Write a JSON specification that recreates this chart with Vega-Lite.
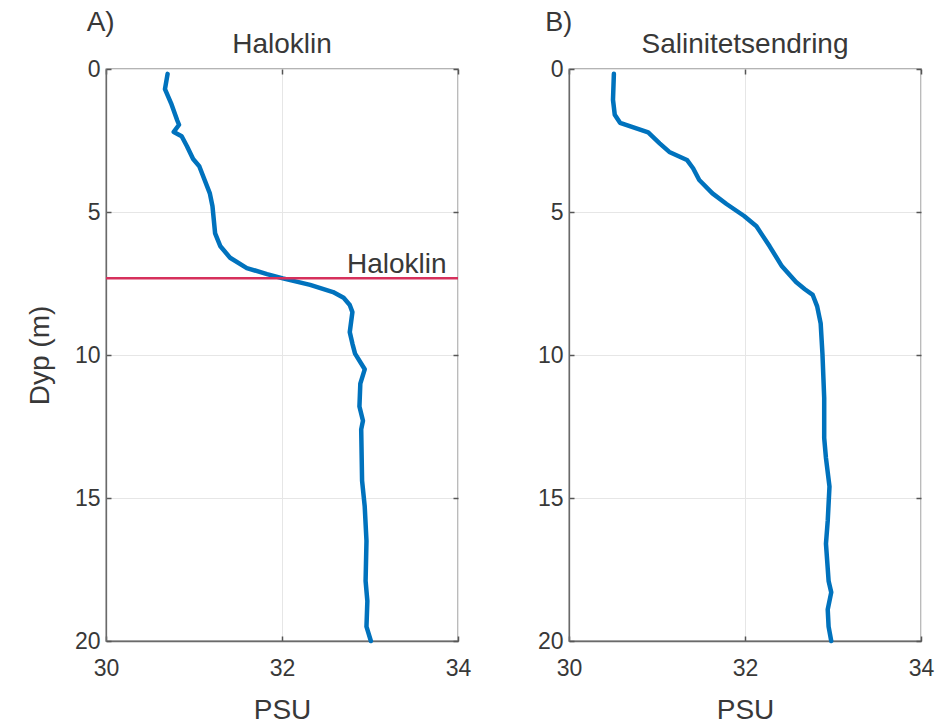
{
  "$schema": "https://vega.github.io/schema/vega-lite/v6.json",
  "background": "white",
  "padding": {"left": 25, "top": 8, "right": 5, "bottom": 0},
  "datasets": {
    "a": [
      {"psu": 30.70, "depth": 0.17}, {"psu": 30.67, "depth": 0.7}, {"psu": 30.74, "depth": 1.2}, {"psu": 30.81, "depth": 1.8},
      {"psu": 30.83, "depth": 1.95}, {"psu": 30.77, "depth": 2.2}, {"psu": 30.86, "depth": 2.35}, {"psu": 30.92, "depth": 2.7},
      {"psu": 30.99, "depth": 3.15}, {"psu": 31.06, "depth": 3.4}, {"psu": 31.18, "depth": 4.35}, {"psu": 31.21, "depth": 4.8},
      {"psu": 31.24, "depth": 5.75}, {"psu": 31.30, "depth": 6.2}, {"psu": 31.41, "depth": 6.6}, {"psu": 31.60, "depth": 6.96},
      {"psu": 31.83, "depth": 7.17}, {"psu": 32.01, "depth": 7.32}, {"psu": 32.32, "depth": 7.55}, {"psu": 32.58, "depth": 7.8},
      {"psu": 32.70, "depth": 8.0}, {"psu": 32.77, "depth": 8.25}, {"psu": 32.80, "depth": 8.5}, {"psu": 32.77, "depth": 9.2},
      {"psu": 32.80, "depth": 9.6}, {"psu": 32.83, "depth": 9.95}, {"psu": 32.94, "depth": 10.5}, {"psu": 32.89, "depth": 11.0},
      {"psu": 32.88, "depth": 11.8}, {"psu": 32.92, "depth": 12.3}, {"psu": 32.90, "depth": 12.6}, {"psu": 32.91, "depth": 14.4},
      {"psu": 32.94, "depth": 15.3}, {"psu": 32.96, "depth": 16.5}, {"psu": 32.95, "depth": 17.9}, {"psu": 32.97, "depth": 18.6},
      {"psu": 32.96, "depth": 19.5}, {"psu": 33.01, "depth": 20}
    ],
    "b": [
      {"psu": 30.51, "depth": 0.17}, {"psu": 30.50, "depth": 1.08}, {"psu": 30.52, "depth": 1.6}, {"psu": 30.58, "depth": 1.88},
      {"psu": 30.69, "depth": 2.0}, {"psu": 30.90, "depth": 2.22}, {"psu": 31.03, "depth": 2.6}, {"psu": 31.14, "depth": 2.9},
      {"psu": 31.34, "depth": 3.18}, {"psu": 31.41, "depth": 3.47}, {"psu": 31.48, "depth": 3.88}, {"psu": 31.63, "depth": 4.35},
      {"psu": 31.79, "depth": 4.72}, {"psu": 31.99, "depth": 5.14}, {"psu": 32.13, "depth": 5.5}, {"psu": 32.28, "depth": 6.2},
      {"psu": 32.42, "depth": 6.9}, {"psu": 32.58, "depth": 7.45}, {"psu": 32.68, "depth": 7.7}, {"psu": 32.77, "depth": 7.9},
      {"psu": 32.82, "depth": 8.3}, {"psu": 32.86, "depth": 8.9}, {"psu": 32.88, "depth": 9.95}, {"psu": 32.90, "depth": 11.5},
      {"psu": 32.90, "depth": 12.9}, {"psu": 32.92, "depth": 13.6}, {"psu": 32.96, "depth": 14.6}, {"psu": 32.94, "depth": 15.8},
      {"psu": 32.92, "depth": 16.6}, {"psu": 32.95, "depth": 17.9}, {"psu": 32.98, "depth": 18.3}, {"psu": 32.94, "depth": 18.9},
      {"psu": 32.95, "depth": 19.5}, {"psu": 32.98, "depth": 20}
    ],
    "one": [{}]
  },
  "spacing": 111,
  "bounds": "flush",
  "hconcat": [
    {
      "width": 352,
      "height": 572,
      "resolve": {"axis": {"x": "independent", "y": "independent"}},
      "layer": [
        {
          "data": {"name": "a"},
          "mark": {"type": "line", "color": "#0072BD", "strokeWidth": 4.5, "strokeJoin": "round", "strokeCap": "round"},
          "encoding": {
            "x": {"field": "psu", "type": "quantitative", "scale": {"domain": [30, 34]}, "axis": {"title": "PSU", "values": [30, 32, 34], "orient": "bottom"}},
            "y": {"field": "depth", "type": "quantitative", "scale": {"domain": [0, 20], "reverse": true}, "axis": {"title": "Dyp (m)", "values": [0, 5, 10, 15, 20], "orient": "left"}},
            "order": {"field": "depth", "type": "quantitative"}
          }
        },
        {
          "data": {"name": "one"},
          "mark": {"type": "rule", "color": "#D6305C", "strokeWidth": 2.5},
          "encoding": {
            "y": {"datum": 7.32, "type": "quantitative", "axis": {"orient": "right", "title": null, "labels": false, "grid": false, "domain": false, "values": [0, 5, 10, 15, 20]}}
          }
        },
        {
          "data": {"name": "one"},
          "mark": {"type": "text", "align": "right", "baseline": "alphabetic", "font": "Liberation Sans", "fontSize": 28, "color": "#383838"},
          "encoding": {
            "x": {"datum": 33.87, "type": "quantitative", "axis": {"orient": "top", "title": null, "labels": false, "grid": false, "domain": false, "values": [30, 32, 34]}},
            "y": {"datum": 7.13, "type": "quantitative", "axis": null},
            "text": {"value": "Haloklin"}
          }
        },
        {
          "data": {"name": "one"},
          "mark": {"type": "text", "align": "center", "baseline": "alphabetic", "font": "Liberation Sans", "fontSize": 28, "color": "#383838"},
          "encoding": {"x": {"datum": 32, "type": "quantitative", "axis": null}, "y": {"datum": -0.56, "type": "quantitative", "axis": null}, "text": {"value": "Haloklin"}}
        },
        {
          "data": {"name": "one"},
          "mark": {"type": "text", "align": "left", "baseline": "alphabetic", "font": "Liberation Sans", "fontSize": 28, "color": "#383838"},
          "encoding": {"x": {"datum": 29.78, "type": "quantitative", "axis": null}, "y": {"datum": -1.33, "type": "quantitative", "axis": null}, "text": {"value": "A)"}}
        }
      ]
    },
    {
      "width": 352,
      "height": 572,
      "resolve": {"axis": {"x": "independent", "y": "independent"}},
      "layer": [
        {
          "data": {"name": "b"},
          "mark": {"type": "line", "color": "#0072BD", "strokeWidth": 4.5, "strokeJoin": "round", "strokeCap": "round"},
          "encoding": {
            "x": {"field": "psu", "type": "quantitative", "scale": {"domain": [30, 34]}, "axis": {"title": "PSU", "values": [30, 32, 34], "orient": "bottom"}},
            "y": {"field": "depth", "type": "quantitative", "scale": {"domain": [0, 20], "reverse": true}, "axis": {"title": null, "values": [0, 5, 10, 15, 20], "orient": "left"}},
            "order": {"field": "depth", "type": "quantitative"}
          }
        },
        {
          "data": {"name": "one"},
          "mark": {"type": "text", "align": "center", "baseline": "alphabetic", "font": "Liberation Sans", "fontSize": 28, "color": "#383838"},
          "encoding": {
            "x": {"datum": 32, "type": "quantitative", "axis": {"orient": "top", "title": null, "labels": false, "grid": false, "domain": false, "values": [30, 32, 34]}},
            "y": {"datum": -0.56, "type": "quantitative", "axis": {"orient": "right", "title": null, "labels": false, "grid": false, "domain": false, "values": [0, 5, 10, 15, 20]}},
            "text": {"value": "Salinitetsendring"}
          }
        },
        {
          "data": {"name": "one"},
          "mark": {"type": "text", "align": "left", "baseline": "alphabetic", "font": "Liberation Sans", "fontSize": 27, "color": "#383838"},
          "encoding": {"x": {"datum": 29.73, "type": "quantitative", "axis": null}, "y": {"datum": -1.33, "type": "quantitative", "axis": null}, "text": {"value": "B)"}}
        }
      ]
    }
  ],
  "config": {
    "font": "Liberation Sans",
    "view": {"stroke": "#6a6a6a", "strokeWidth": 1.3},
    "axis": {
      "labelFont": "Liberation Sans",
      "labelFontSize": 23,
      "labelColor": "#383838",
      "format": "d",
      "titleFont": "Liberation Sans",
      "titleFontSize": 28,
      "titleFontWeight": "normal",
      "titleColor": "#383838",
      "grid": true,
      "gridColor": "#e6e6e6",
      "gridWidth": 1,
      "domainColor": "#6a6a6a",
      "domainWidth": 1.3,
      "tickColor": "#555555",
      "tickWidth": 1.5,
      "tickSize": -5,
      "labelFlush": false,
      "labelOverlap": false
    },
    "axisY": {"labelPadding": 11, "titlePadding": 20},
    "axisX": {"labelPadding": 21, "titlePadding": 16}
  }
}
